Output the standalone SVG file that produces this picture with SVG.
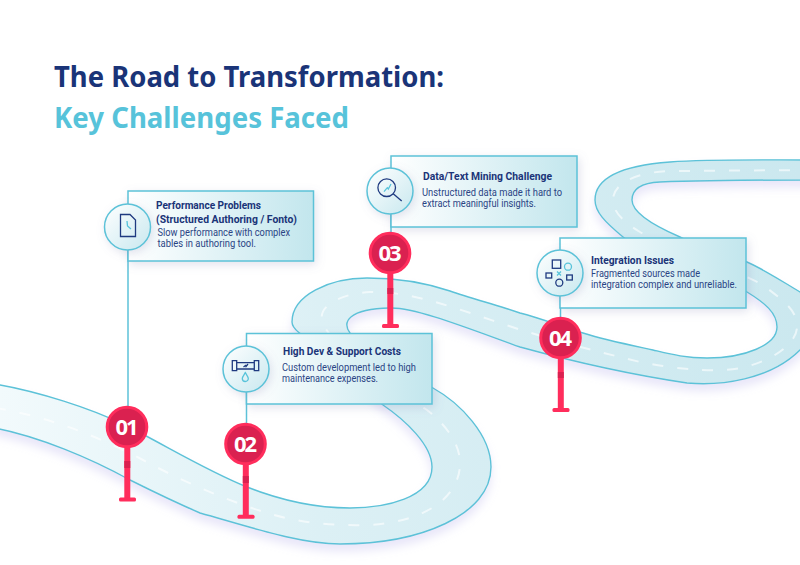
<svg xmlns="http://www.w3.org/2000/svg" width="800" height="565" viewBox="0 0 800 565">
<style>
text{font-family:"Noto Sans","Open Sans","Liberation Sans",sans-serif}
.t{font-size:28px;font-weight:700;fill:#1a3478}
.t2{font-size:28px;font-weight:700;fill:#57c3da}
.h{font-family:Roboto,"Noto Sans",sans-serif;font-size:10.4px;font-weight:700;fill:#1a3478}
.b{font-family:Roboto,"Noto Sans",sans-serif;font-size:10.2px;fill:#2a4484}
.n{font-size:22px;font-weight:700;fill:#fff;text-anchor:middle}
.card{fill:url(#cardGrad);stroke:#5cc2d8;stroke-width:1.5;filter:url(#soft)}
.disc{fill:url(#discGrad);stroke:#5cc2d8;stroke-width:1.5;filter:url(#soft)}
.ring{fill:#da2150;stroke:#ff2d5c;stroke-width:3}
.stem{fill:#ff2d5c}
.band{fill:#da2150}
.ic{fill:none;stroke:#1f3a80;stroke-width:1.3}
.it{fill:none;stroke:#57c3da;stroke-width:1.3}
.link{stroke:#5cc2d8;stroke-width:1.5;fill:none}
</style>
<defs>
<linearGradient id="roadGrad" gradientUnits="userSpaceOnUse" x1="0" y1="0" x2="800" y2="0"><stop offset="0" stop-color="#f2fafc"/><stop offset=".4" stop-color="#dcf0f5"/><stop offset="1" stop-color="#cbe8ef"/></linearGradient>
<linearGradient id="cardGrad" x1="0" y1="0" x2="1" y2="0"><stop offset="0" stop-color="#fff"/><stop offset="1" stop-color="#c2e6ed"/></linearGradient>
<linearGradient id="discGrad" x1="0" y1="0" x2="1" y2="1"><stop offset="0" stop-color="#fff"/><stop offset="1" stop-color="#c8e8ef"/></linearGradient>
<filter id="soft" x="-30%" y="-30%" width="160%" height="170%"><feDropShadow dx="2" dy="3" stdDeviation="5" flood-color="#7a80b0" flood-opacity=".22"/></filter>
<filter id="roadShadow" x="-5%" y="-5%" width="110%" height="115%"><feDropShadow dx="0" dy="7" stdDeviation="4" flood-color="#c8c4f0" flood-opacity=".4"/></filter>
</defs>
<rect width="800" height="565" fill="#fff"/>
<g id="road">
<path filter="url(#roadShadow)" fill="url(#roadGrad)" stroke="#5cc2d8" stroke-width="1.4" d="M-5,384 C40,392 90,408 125,425 C165,445 205,470 247,487 C285,502 320,508 350,508 C385,508 432,498 432,467 C432,445 405,420 383,405 C360,390 356,350 350,333 C342,322 348,309 390,308 C415,307 470,329 520,347 C560,358 620,373 687,383 C720,386 770,380 800,350 C830,325 830,310 800,292 C780,280 765,270 747,262 C700,245 650,260 623,237 C605,222 595,212 595,200 C595,175 630,165 670,162 C710,159 760,160 810,160 L810,180 C770,180 710,180 660,182 C640,183 632,190 632,200 C632,212 650,224 680,237 C700,246 725,278 747,292 C765,303 777,313 777,327 C777,345 745,358 707,358 C685,358 670,354 653,350 C630,345 605,340 583,333 C560,326 540,318 520,313 C500,306 470,298 450,291 C420,281 395,278 367,278 C330,278 292,295 292,322 C292,345 400,370 433,388 C460,403 491,435 491,467 C491,515 420,544 340,544 C300,544 250,527 200,513 C170,500 150,490 130,480 C90,458 40,437 -5,428 Z"/>
<path fill="none" stroke="#fff" stroke-opacity=".6" stroke-width="2" stroke-dasharray="11 14" d="M-5,408 C40,415 90,432 143,460 C180,480 225,500 267,513 C300,523 335,526 367,525 C420,523 460,500 460,463 C460,440 440,420 427,410 C390,385 330,345 323,323 C315,305 345,293 370,292 C410,291 455,308 500,323 C550,340 600,352 640,362 C680,370 720,373 745,367 C780,358 797,340 797,327 C797,310 785,302 763,285 C720,262 670,250 640,232 C620,220 613,210 613,200 C613,180 645,171 673,171 L810,170"/>
</g>
<g id="title">
<text class="t" x="54" y="87" textLength="390" lengthAdjust="spacingAndGlyphs">The Road to Transformation:</text>
<text class="t2" x="54" y="127.5" textLength="295" lengthAdjust="spacingAndGlyphs">Key Challenges Faced</text>
</g>
<g id="connectors">
<line class="link" x1="128" y1="250" x2="128" y2="408"/>
<line class="link" x1="246.5" y1="392" x2="246.5" y2="425"/>
<line class="link" x1="391" y1="214" x2="391" y2="234"/>
<line class="link" x1="560.5" y1="296" x2="560.5" y2="318"/>
</g>
<g id="node-01">
<rect class="card" x="128" y="191" width="185.500" height="70"/>
<circle class="disc" cx="127.500" cy="227" r="23"/>
<path class="ic" d="M120.500,214.500 H130 L135.500,220 V236.500 H120.500 Z"/>
<path class="it" d="M127,221 L127.500,226 L131,229"/>
<text class="h" x="156" y="209" textLength="105" lengthAdjust="spacingAndGlyphs">Performance Problems</text>
<text class="h" x="156" y="223" textLength="141" lengthAdjust="spacingAndGlyphs">(Structured Authoring / Fonto)</text>
<text class="b" x="157.500" y="236" textLength="132.500" lengthAdjust="spacingAndGlyphs">Slow performance with complex</text>
<text class="b" x="157.500" y="247" textLength="98.500" lengthAdjust="spacingAndGlyphs">tables in authoring tool.</text>
<rect class="stem" x="124.300" y="446" width="6" height="52"/>
<rect class="band" x="124.300" y="461" width="6" height="7"/>
<rect class="stem" x="119" y="497.500" width="17" height="4" rx="1.500"/>
<circle class="ring" cx="127" cy="427" r="19.800"/>
<text class="n" x="127" y="435" textLength="23">01</text>
</g>
<g id="node-02">
<rect class="card" x="246.500" y="333.500" width="185.500" height="70.500"/>
<circle class="disc" cx="246" cy="369" r="23"/>
<path class="ic" d="M232.300,360.700 h4.400 v10 h-4.400 Z M254.300,360.700 h4.400 v10 h-4.400 Z M236.700,362.700 H254.300 M236.700,369 H254.300"/>
<path class="ic" stroke-width="1" d="M243.500,367 L245.500,365.500 L246,366.500 L248,364"/>
<path class="it" d="M245.300,372.700 C243.500,375.500 242.300,377 242.300,378.500 A3,3 0 0 0 248.300,378.500 C248.300,377 247,375.500 245.300,372.700 Z"/>
<text class="h" x="283" y="355" textLength="118" lengthAdjust="spacingAndGlyphs">High Dev &amp; Support Costs</text>
<text class="b" x="282" y="371" textLength="134" lengthAdjust="spacingAndGlyphs">Custom development led to high</text>
<text class="b" x="282" y="382" textLength="96" lengthAdjust="spacingAndGlyphs">maintenance expenses.</text>
<rect class="stem" x="242.800" y="463" width="6" height="52"/>
<rect class="band" x="242.800" y="476" width="6" height="7"/>
<rect class="stem" x="237.500" y="514.700" width="17" height="4" rx="1.500"/>
<circle class="ring" cx="245.500" cy="444" r="19.800"/>
<text class="n" x="245.500" y="452" textLength="23">02</text>
</g>
<g id="node-03">
<rect class="card" x="391" y="156" width="186" height="71"/>
<circle class="disc" cx="390" cy="191" r="23"/>
<circle class="ic" cx="386.700" cy="187.700" r="8.800"/>
<path class="ic" d="M393.200,193.700 L401.700,201"/>
<path class="it" d="M384,191.700 L387.300,187.700 L388.300,189 L391,184"/>
<text class="h" x="423" y="180" textLength="129" lengthAdjust="spacingAndGlyphs">Data/Text Mining Challenge</text>
<text class="b" x="422" y="196" textLength="140" lengthAdjust="spacingAndGlyphs">Unstructured data made it hard to</text>
<text class="b" x="422" y="207" textLength="114" lengthAdjust="spacingAndGlyphs">extract meaningful insights.</text>
<rect class="stem" x="387.300" y="272" width="6" height="52"/>
<rect class="band" x="387.300" y="288" width="6" height="6"/>
<rect class="stem" x="382" y="324" width="17" height="4" rx="1.500"/>
<circle class="ring" cx="390" cy="253" r="19.800"/>
<text class="n" x="390" y="261" textLength="23">03</text>
</g>
<g id="node-04">
<rect class="card" x="560" y="238" width="186" height="70"/>
<circle class="disc" cx="560" cy="273" r="23"/>
<rect class="ic" x="552.300" y="260" width="8.400" height="8.300"/>
<circle class="it" cx="568" cy="266.700" r="3.500"/>
<rect class="ic" x="546" y="273" width="5.700" height="5"/>
<path class="it" d="M557,271.500 L561,275.500 M561,271.500 L557,275.500"/>
<rect class="ic" x="566.700" y="275" width="5.600" height="5"/>
<circle class="ic" cx="559.300" cy="282.700" r="3.500"/>
<text class="h" x="591" y="263.500" textLength="83" lengthAdjust="spacingAndGlyphs">Integration Issues</text>
<text class="b" x="591" y="277" textLength="109" lengthAdjust="spacingAndGlyphs">Fragmented sources made</text>
<text class="b" x="591" y="287.500" textLength="146" lengthAdjust="spacingAndGlyphs">integration complex and unreliable.</text>
<rect class="stem" x="557.800" y="357" width="6" height="52"/>
<rect class="band" x="557.800" y="372" width="6" height="6"/>
<rect class="stem" x="552.500" y="408" width="17" height="4" rx="1.500"/>
<circle class="ring" cx="560.500" cy="338" r="19.800"/>
<text class="n" x="560.500" y="346" textLength="23">04</text>
</g>
</svg>
